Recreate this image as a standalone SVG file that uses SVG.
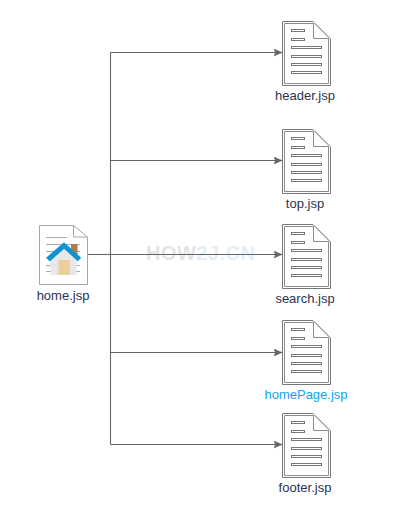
<svg xmlns="http://www.w3.org/2000/svg" width="400" height="506" viewBox="0 0 400 506">
<style>
text{font-family:"Liberation Sans",Arial,sans-serif;font-size:13px;text-anchor:middle;fill:#2b3350}
.c{fill:none;stroke:#666;stroke-width:1.100}
.o{fill:#fff;stroke:#777;stroke-width:1}
.i{fill:none;stroke:#8a8a8a;stroke-width:1}
.r{fill:#fff;stroke:#777;stroke-width:1}
.l{stroke:#aaa;stroke-width:1;fill:none}
.w{font-size:20px;font-weight:bold;text-anchor:start}
</style>
<defs>
<marker id="a" markerWidth="9" markerHeight="8" refX="8" refY="4" orient="auto" markerUnits="userSpaceOnUse"><path d="M0 .5L8 4L0 7.500L1.500 4Z" fill="#666" stroke="#666" stroke-width=".5"/></marker>
<g id="doc">
<path class="o" d="M.5 .5H31L48.500 18V64.500H.5Z"/>
<path class="i" d="M2.500 2.500H31.500V17.500H46.500V62.500H2.500Z"/>
<path class="i" stroke-opacity=".6" d="M33.500 3L46 15.500"/>
<rect class="r" x="9.500" y="8.500" width="13" height="2"/>
<rect class="r" x="9.500" y="17.500" width="13" height="2"/>
<rect class="r" x="9.500" y="25.500" width="30" height="2"/>
<rect class="r" x="9.500" y="34.500" width="30" height="2"/>
<rect class="r" x="9.500" y="42.500" width="30" height="2"/>
<rect class="r" x="9.500" y="50.500" width="30" height="2"/>
</g>
</defs>
<g id="watermark">
<text class="w" x="146" y="260" style="fill:#e4e4e4" textLength="109" lengthAdjust="spacing">HOW<tspan style="fill:#e6eef6">2J</tspan><tspan style="fill:#e3eff9">.CN</tspan></text>
</g>
<g id="connectors">
<path class="c" d="M87.500 254.500H110.500"/>
<path class="c" d="M110.500 52.500V444.500"/>
<path class="c" d="M110.500 52.500H282" marker-end="url(#a)"/>
<path class="c" d="M110.500 160.500H282" marker-end="url(#a)"/>
<path class="c" d="M110.500 254.500H282" marker-end="url(#a)"/>
<path class="c" d="M110.500 352.500H282" marker-end="url(#a)"/>
<path class="c" d="M110.500 444.500H282" marker-end="url(#a)"/>
</g>
<g id="home">
<path d="M39.500 225.500H73.500L87.500 237V284.500H39.500Z" fill="#fff" stroke="#a6a6a6"/>
<path d="M73.500 225.500V237H87.500" fill="none" stroke="#a6a6a6"/>
<path class="l" d="M46 237.500H67M46 244.500H80M46 251.500H80M46 258.500H80M46 265.500H80M46 271.500H80"/>
<rect x="71" y="244" width="6.500" height="12" fill="#b97a42"/>
<path d="M50.500 258L64 246L76.500 258V275H50.500Z" fill="#e8e8e8"/>
<rect x="58.500" y="260" width="11.500" height="15" fill="#eccf9c"/>
<path d="M48 259.500L64 245.500L79.500 259.500" fill="none" stroke="#0f94d2" stroke-width="5"/>
<text x="63" y="300">home.jsp</text>
</g>
<g id="header"><use href="#doc" x="282" y="21"/><text x="305" y="100">header.jsp</text></g>
<g id="top"><use href="#doc" x="282" y="129"/><text x="305" y="208">top.jsp</text></g>
<g id="search"><use href="#doc" x="282" y="224"/><text x="305" y="303">search.jsp</text></g>
<g id="homePage"><use href="#doc" x="282" y="320"/><text x="306" y="399" style="fill:#0ea5f0">homePage.jsp</text></g>
<g id="footer"><use href="#doc" x="282" y="413"/><text x="305" y="492">footer.jsp</text></g>
</svg>
